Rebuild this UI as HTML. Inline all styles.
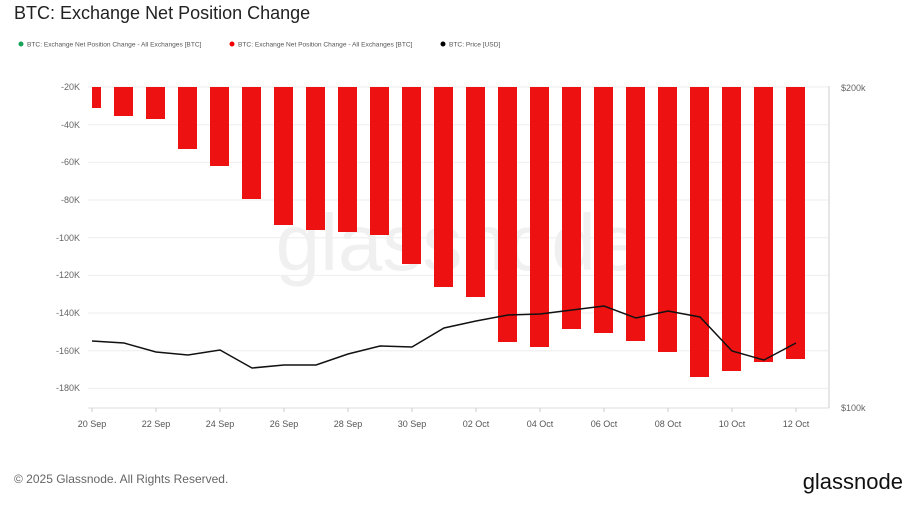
<!DOCTYPE html>
<html><head><meta charset="utf-8"><style>
body{margin:0;background:#fff;width:911px;height:506px;overflow:hidden;font-family:"Liberation Sans",sans-serif}
</style></head><body>
<svg width="911" height="506" xmlns="http://www.w3.org/2000/svg" font-family="Liberation Sans, sans-serif">
<text x="14" y="19" font-size="18" fill="#222">BTC: Exchange Net Position Change</text>
<g font-size="6.6" fill="#555">
<circle cx="21" cy="44" r="2.5" fill="#1aa35a"/><text x="27" y="46.5">BTC: Exchange Net Position Change - All Exchanges [BTC]</text>
<circle cx="232" cy="44" r="2.5" fill="#e00"/><text x="238" y="46.5">BTC: Exchange Net Position Change - All Exchanges [BTC]</text>
<circle cx="443" cy="44" r="2.5" fill="#000"/><text x="449" y="46.5">BTC: Price [USD]</text>
</g>
<g stroke="#eee" stroke-width="1">
<line x1="88" x2="828" y1="87" y2="87"/><line x1="88" x2="828" y1="124.7" y2="124.7"/><line x1="88" x2="828" y1="162.4" y2="162.4"/><line x1="88" x2="828" y1="200" y2="200"/><line x1="88" x2="828" y1="237.7" y2="237.7"/><line x1="88" x2="828" y1="275.4" y2="275.4"/><line x1="88" x2="828" y1="313" y2="313"/><line x1="88" x2="828" y1="350.7" y2="350.7"/><line x1="88" x2="828" y1="388.4" y2="388.4"/>
</g>
<text x="458" y="270" font-size="80" fill="#f0f0f0" text-anchor="middle">glassnode</text>
<g font-size="9" fill="#666" text-anchor="end">
<text x="80" y="90">-20K</text><text x="80" y="128">-40K</text><text x="80" y="165">-60K</text><text x="80" y="203">-80K</text><text x="80" y="241">-100K</text><text x="80" y="278">-120K</text><text x="80" y="316">-140K</text><text x="80" y="354">-160K</text><text x="80" y="391">-180K</text>
</g>
<g fill="#ee1111">
<rect x="92" y="87" width="9" height="21"/>
<rect x="114" y="87" width="19" height="29"/>
<rect x="146" y="87" width="19" height="32"/>
<rect x="178" y="87" width="19" height="62"/>
<rect x="210" y="87" width="19" height="79"/>
<rect x="242" y="87" width="19" height="112"/>
<rect x="274" y="87" width="19" height="138"/>
<rect x="306" y="87" width="19" height="143"/>
<rect x="338" y="87" width="19" height="145"/>
<rect x="370" y="87" width="19" height="148"/>
<rect x="402" y="87" width="19" height="177"/>
<rect x="434" y="87" width="19" height="200"/>
<rect x="466" y="87" width="19" height="210"/>
<rect x="498" y="87" width="19" height="255"/>
<rect x="530" y="87" width="19" height="260"/>
<rect x="562" y="87" width="19" height="242"/>
<rect x="594" y="87" width="19" height="246"/>
<rect x="626" y="87" width="19" height="254"/>
<rect x="658" y="87" width="19" height="265"/>
<rect x="690" y="87" width="19" height="290"/>
<rect x="722" y="87" width="19" height="284"/>
<rect x="754" y="87" width="19" height="275"/>
<rect x="786" y="87" width="19" height="272"/>
</g>
<polyline fill="none" stroke="#111" stroke-width="1.5" points="92,341 124,343 156,352 188,355 220,350 252,368 284,365 316,365 348,354 380,346 412,347 444,328 476,321 508,315 540,314 572,310 604,306 636,318 668,311 700,317 732,351 764,360 796,343"/>
<line x1="88" x2="829" y1="408" y2="408" stroke="#ddd"/>
<line x1="829" x2="829" y1="86" y2="408" stroke="#ccc"/>
<g stroke="#ccc">
<line x1="92" x2="92" y1="408" y2="412"/><line x1="156" x2="156" y1="408" y2="412"/><line x1="220" x2="220" y1="408" y2="412"/><line x1="284" x2="284" y1="408" y2="412"/><line x1="348" x2="348" y1="408" y2="412"/><line x1="412" x2="412" y1="408" y2="412"/><line x1="476" x2="476" y1="408" y2="412"/><line x1="540" x2="540" y1="408" y2="412"/><line x1="604" x2="604" y1="408" y2="412"/><line x1="668" x2="668" y1="408" y2="412"/><line x1="732" x2="732" y1="408" y2="412"/><line x1="796" x2="796" y1="408" y2="412"/>
</g>
<g font-size="9" fill="#555" text-anchor="middle">
<text x="92" y="427">20 Sep</text><text x="156" y="427">22 Sep</text><text x="220" y="427">24 Sep</text><text x="284" y="427">26 Sep</text><text x="348" y="427">28 Sep</text><text x="412" y="427">30 Sep</text><text x="476" y="427">02 Oct</text><text x="540" y="427">04 Oct</text><text x="604" y="427">06 Oct</text><text x="668" y="427">08 Oct</text><text x="732" y="427">10 Oct</text><text x="796" y="427">12 Oct</text>
</g>
<g font-size="9" fill="#666"><text x="841" y="91">$200k</text><text x="841" y="411">$100k</text></g>
<text x="14" y="483" font-size="12" fill="#666">© 2025 Glassnode. All Rights Reserved.</text>
<text x="903" y="489" font-size="22" fill="#111" text-anchor="end">glassnode</text>
</svg>
</body></html>
